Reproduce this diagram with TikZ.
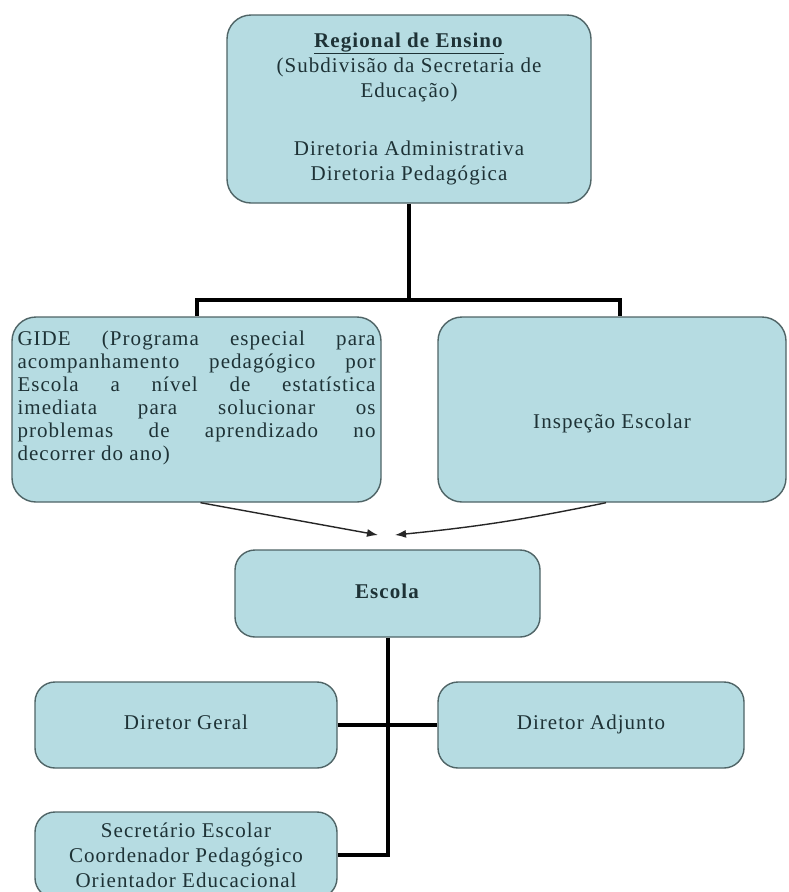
\documentclass[tikz,border=0pt]{standalone}
\usepackage{fontspec}
\setmainfont{Liberation Serif}[LetterSpace=5]
\usetikzlibrary{arrows.meta}

\definecolor{boxfill}{HTML}{B6DCE2}
\definecolor{boxline}{HTML}{4F6466}
\definecolor{boxtext}{HTML}{1E3236}

\begin{document}
\begin{tikzpicture}[x=1pt,y=-1pt,
  orgbox/.style={draw=boxline, line width=1.4pt, fill=boxfill,
    rounded corners=20pt, text=boxtext, inner sep=0pt, align=center,
    font=\fontsize{21}{25}\selectfont},
  boxlabel/.style={text=boxtext, inner sep=0pt,
    font=\fontsize{21}{23}\selectfont},
  link/.style={line width=4pt, draw=black, line join=miter},
  feed/.style={line width=1.4pt, draw=black!85,
    -{Latex[length=11pt,width=8pt]}}]

\useasboundingbox (0,0) rectangle (788,892);
\fill[white] (0,0) rectangle (788,892);
\clip (0,0) rectangle (788,892);

% upper level
\node[orgbox, rounded corners=24pt, minimum width=364pt, minimum height=188pt]
  (reg) at (409,109)
  {\underline{\textbf{Regional de Ensino}}\\
   (Subdivisão da Secretaria de\\
   Educação)\\[33pt]
   Diretoria Administrativa\\
   Diretoria Pedagógica};

\node[orgbox, rounded corners=24pt, minimum width=369pt, minimum height=185pt]
  (gide) at (196.5,409.5) {};
\node[boxlabel, text width=358pt, align=justify]
  (gidetext) at ([yshift=12pt]gide.center)
  {GIDE (Programa especial para\linebreak
   acompanhamento pedagógico por\linebreak
   Escola a nível de estatística\linebreak
   imediata para solucionar os\linebreak
   problemas de aprendizado no\linebreak
   decorrer do ano)};

\node[orgbox, rounded corners=24pt, minimum width=348pt, minimum height=185pt]
  (insp) at (612,409.5) {};
\node[boxlabel] (insptext) at ([yshift=-14pt]insp.center) {Inspeção Escolar};

% school level
\node[orgbox, minimum width=305pt, minimum height=87pt]
  (escola) at (387.5,593.5) {\raisebox{5pt}{\textbf{Escola}}};

\node[orgbox, minimum width=302pt, minimum height=86pt]
  (dg) at (186,725) {\raisebox{5pt}{Diretor Geral}};
\node[orgbox, minimum width=306pt, minimum height=86pt]
  (da) at (591,725) {\raisebox{5pt}{Diretor Adjunto}};
\node[orgbox, minimum width=302pt, minimum height=86pt,
      font=\fontsize{21}{25}\selectfont]
  (sec) at (186,855)
  {Secretário Escolar\\ Coordenador Pedagógico\\ Orientador Educacional};

% tree connectors
\coordinate (hub) at (409,300);
\draw[link] (reg.south) -- (hub) -| (gide.north);
\draw[link] (hub) -| ([xshift=8pt]insp.north);

\draw[link] (escola.south) |- (sec.east);
\draw[link] (dg.east) -- (da.west);

% converging arrows towards the school
\coordinate (tipL) at (378,535);
\coordinate (tipR) at (395,535);
\draw[feed] ([xshift=4pt]gide.south) -- (tipL);
\draw[feed] ([xshift=-6pt]insp.south) to[bend left=3] (tipR);
\end{tikzpicture}
\end{document}
